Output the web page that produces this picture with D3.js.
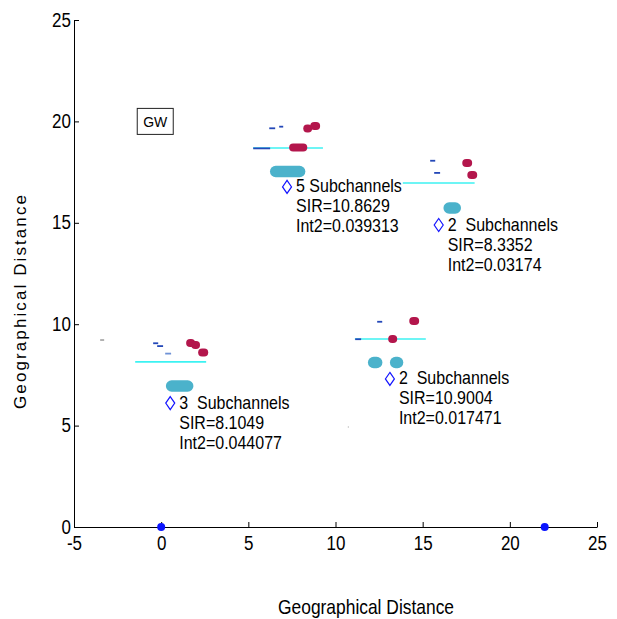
<!DOCTYPE html>
<html>
<head>
<meta charset="utf-8">
<script src="https://cdn.jsdelivr.net/npm/d3@7"></script>
<style>
  html, body { margin: 0; padding: 0; background: #fff; }
  svg { display: block; font-family: "Liberation Sans", Arial, sans-serif; }
</style>
</head>
<body>
<div id="chart"></div>
<script>
// ---------- data ----------
const xTicks = [-5, 0, 5, 10, 15, 20, 25];
const yTicks = [0, 5, 10, 15, 20, 25];

// thin cyan horizontal lines: [x1, x2, y]
const cyanLines = [
  [-1.49, 2.58, 8.14],
  [5.27, 9.28, 18.69],
  [11.11, 15.18, 9.27],
  [13.86, 17.98, 16.96]
];
// thick teal rounded bars: [x1, x2, y]
const tealBars = [
  [0.60, 1.52, 6.95],
  [6.57, 7.94, 17.53],
  [12.19, 12.36, 8.11],
  [13.45, 13.56, 8.11],
  [16.52, 16.87, 15.73]
];
// thick magenta rounded bars: [x1, x2, y]
const magentaBars = [
  [1.66, 1.72, 9.07],
  [1.95, 2.00, 8.97],
  [2.35, 2.47, 8.60],
  [8.38, 8.43, 19.65],
  [8.78, 8.89, 19.77],
  [7.57, 8.15, 18.71],
  [14.46, 14.57, 10.16],
  [13.25, 13.31, 9.27],
  [17.50, 17.61, 17.95],
  [17.79, 17.90, 17.36]
];
// small dark blue dashes: [x1, x2, y]
const blueDashes = [
  [-0.46, -0.17, 9.06],
  [-0.23, 0.11, 8.92],
  [6.20, 6.54, 19.66],
  [6.77, 7.00, 19.74],
  [5.28, 6.25, 18.67],
  [12.39, 12.68, 10.12],
  [11.13, 11.47, 9.26],
  [15.43, 15.72, 18.06],
  [15.66, 16.00, 17.46]
];
// light blue dashes
const lightBlueDashes = [
  [0.23, 0.57, 8.55]
];
// gray dashes
const grayDashes = [
  [-3.50, -3.27, 9.22],
  [10.71, 10.75, 4.93]
];
// base station points
const basePoints = [[0, 0], [22, 0]];
// gateway label
const gwLabel = { x: -0.34, y: 20.0, text: "GW" };
// annotations: diamond position and text lines
const annotX = [0.52, 7.22, 13.12, 15.92];
const annotY = [6.11, 16.77, 7.30, 14.89];
const annotLines = [
  ["3  Subchannels", "SIR=8.1049", "Int2=0.044077"],
  ["5 Subchannels", "SIR=10.8629", "Int2=0.039313"],
  ["2  Subchannels", "SIR=10.9004", "Int2=0.017471"],
  ["2  Subchannels", "SIR=8.3352", "Int2=0.03174"]
];

// ---------- layout ----------
const W = 617, H = 619;
const x = d3.scaleLinear().domain([-5, 25]).range([74, 597]);
const y = d3.scaleLinear().domain([0, 25]).range([527, 20]);
const SY = 1.15; // vertical stretch of text in the reference

const svg = d3.select("#chart").append("svg")
  .attr("width", W).attr("height", H);

// axes
const fmt = d => String(d);
const xAxis = d3.axisBottom(x).tickValues(xTicks).tickSizeInner(-5).tickSizeOuter(0).tickFormat(fmt);
const yAxis = d3.axisLeft(y).tickValues(yTicks).tickSizeInner(-5).tickSizeOuter(0).tickFormat(fmt);

const gx = svg.append("g").attr("transform", `translate(0,${y(0)})`).call(xAxis);
const gy = svg.append("g").attr("transform", `translate(${x(-5)},0)`).call(yAxis);

[gx, gy].forEach(g => {
  g.select(".domain").attr("stroke", "#000").attr("stroke-width", 1);
  g.selectAll(".tick line").attr("stroke", "#000");
  g.selectAll(".tick text").attr("fill", "#000").attr("font-size", 17)
    .attr("font-family", "Liberation Sans, Arial, sans-serif");
});
gx.selectAll(".tick text").attr("y", 0).attr("dy", null)
  .attr("transform", `translate(0,23) scale(1,${SY})`);
gy.selectAll(".tick text").attr("x", 0).attr("dy", null)
  .attr("transform", `translate(-3,6) scale(1,${SY})`);

// axis labels
svg.append("text")
  .attr("transform", `translate(366,614) scale(1,1.2)`)
  .attr("text-anchor", "middle").attr("font-size", 17)
  .attr("textLength", 176).attr("lengthAdjust", "spacingAndGlyphs")
  .text("Geographical Distance");

svg.append("text")
  .attr("transform", `translate(26,302) rotate(-90)`)
  .attr("text-anchor", "middle").attr("font-size", 17)
  .attr("textLength", 214).attr("lengthAdjust", "spacing")
  .text("Geographical Distance");

const plot = svg.append("g");

function segs(data, color, width, cap) {
  plot.selectAll(null).data(data).enter().append("line")
    .attr("x1", d => x(d[0])).attr("x2", d => x(d[1]))
    .attr("y1", d => y(d[2])).attr("y2", d => y(d[2]))
    .attr("stroke", color).attr("stroke-width", width)
    .attr("stroke-linecap", cap);
}

segs(cyanLines, "#3cf2f2", 1.6, "butt");
segs(grayDashes, "#a0a0a0", 1.6, "butt");
segs(blueDashes, "#2448b8", 1.8, "butt");
segs(lightBlueDashes, "#6f92d6", 1.8, "butt");
segs(magentaBars, "#b3164c", 8, "round");
segs(tealBars, "#4bb2cb", 11.5, "round");

// base points
plot.selectAll(null).data(basePoints).enter().append("circle")
  .attr("cx", d => x(d[0])).attr("cy", d => y(d[1]))
  .attr("r", 4).attr("fill", "#0a14ff");

// GW label with box
const gwx = x(gwLabel.x), gwy = y(gwLabel.y);
plot.append("rect")
  .attr("x", gwx - 18).attr("y", gwy - 13).attr("width", 36).attr("height", 26)
  .attr("fill", "none").attr("stroke", "#222").attr("stroke-width", 1);
plot.append("text")
  .attr("transform", `translate(${gwx},${gwy + 5.5}) scale(1,1.1)`)
  .attr("text-anchor", "middle").attr("font-size", 14).text(gwLabel.text);

// annotations
annotX.forEach((ax, i) => {
  const px = x(ax), py = y(annotY[i]);
  plot.append("path")
    .attr("d", `M${px},${py - 6.5}L${px + 4.5},${py}L${px},${py + 6.5}L${px - 4.5},${py}Z`)
    .attr("fill", "none").attr("stroke", "#1414ff").attr("stroke-width", 1.2);
  annotLines[i].forEach((s, j) => {
    plot.append("text")
      .attr("transform", `translate(${px + 9},${py + 5.5 + 20 * j}) scale(1,${SY})`)
      .attr("font-size", 16).attr("xml:space", "preserve")
      .style("white-space", "pre")
      .text(s);
  });
});
</script>
</body>
</html>
